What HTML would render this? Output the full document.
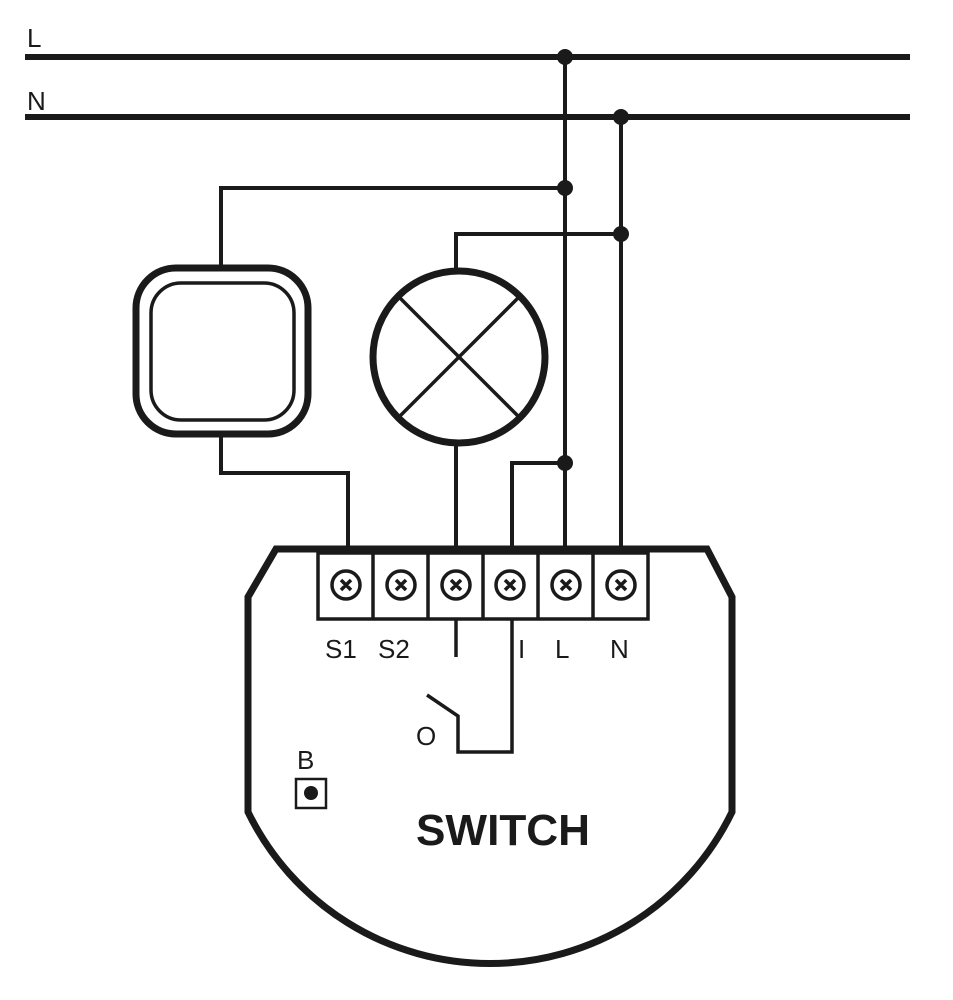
<!DOCTYPE html>
<html><head><style>html,body{margin:0;padding:0;background:#fff}svg{display:block}</style></head>
<body>
<svg width="953" height="1000" viewBox="0 0 953 1000" xmlns="http://www.w3.org/2000/svg">
<rect width="953" height="1000" fill="#fff"/>
<g stroke="#1a1a1a" fill="none" stroke-linecap="butt">
<line x1="25" y1="57" x2="910" y2="57" stroke-width="6"/>
<line x1="25" y1="117" x2="910" y2="117" stroke-width="6"/>
<polyline points="565,57 565,548" stroke-width="4"/>
<polyline points="621,117 621,548" stroke-width="4"/>
<polyline points="221,265 221,188 565,188" stroke-width="4"/>
<polyline points="456,270 456,234 621,234" stroke-width="4"/>
<polyline points="221,437 221,473 348,473 348,550" stroke-width="4"/>
<line x1="456" y1="444" x2="456" y2="550" stroke-width="4"/>
<polyline points="512,550 512,463 565,463" stroke-width="4"/>
<rect x="136" y="268" width="172" height="166" rx="40" stroke-width="7"/>
<rect x="151" y="283" width="143" height="137" rx="30" stroke-width="3.5"/>
<circle cx="459" cy="357" r="86" stroke-width="7"/>
<line x1="397" y1="295" x2="521" y2="419" stroke-width="3.5"/>
<line x1="521" y1="295" x2="397" y2="419" stroke-width="3.5"/>
<path d="M276,549 L707,549 L732,597 L732,812 A269,269 0 0 1 248,812 L248,597 Z" stroke-width="7"/>
<rect x="318" y="553" width="330" height="66" stroke-width="3.5"/>
<g stroke-width="3.5">
<line x1="373" y1="553" x2="373" y2="619"/><line x1="428" y1="553" x2="428" y2="619"/>
<line x1="483" y1="553" x2="483" y2="619"/><line x1="538" y1="553" x2="538" y2="619"/>
<line x1="593" y1="553" x2="593" y2="619"/>
</g>
<g stroke-width="3.5">
<circle cx="346" cy="585" r="14"/><circle cx="401" cy="585" r="14"/><circle cx="456" cy="585" r="14"/>
<circle cx="510" cy="585" r="14"/><circle cx="566" cy="585" r="14"/><circle cx="621" cy="585" r="14"/>
</g>
<g stroke-width="3.5">
<path d="M341,580l10,10M351,580l-10,10M396,580l10,10M406,580l-10,10M451,580l10,10M461,580l-10,10M505,580l10,10M515,580l-10,10M561,580l10,10M571,580l-10,10M616,580l10,10M626,580l-10,10"/>
</g>
<line x1="456" y1="619" x2="456" y2="657" stroke-width="3.5"/>
<polyline points="512,619 512,752 458,752 458,716 427,695" stroke-width="3.5"/>
<rect x="296" y="779" width="30" height="29" stroke-width="2.5"/>
</g>
<circle cx="311" cy="793" r="7" fill="#1a1a1a"/>
<circle cx="565" cy="57" r="8" fill="#1a1a1a"/>
<circle cx="621" cy="117" r="8" fill="#1a1a1a"/>
<circle cx="565" cy="188" r="8" fill="#1a1a1a"/>
<circle cx="621" cy="234" r="8" fill="#1a1a1a"/>
<circle cx="565" cy="463" r="8" fill="#1a1a1a"/>
<g font-family="Liberation Sans, sans-serif" fill="#1a1a1a" font-size="26">
<text x="27" y="47">L</text>
<text x="27" y="110">N</text>
<text x="325" y="658">S1</text>
<text x="378" y="658">S2</text>
<text x="518" y="658">I</text>
<text x="555" y="658">L</text>
<text x="610" y="658">N</text>
<text x="416" y="745">O</text>
<text x="297" y="769">B</text>
<text x="416" y="845" font-size="44" font-weight="bold" textLength="174" lengthAdjust="spacingAndGlyphs">SWITCH</text>
</g>
</svg>
</body></html>
